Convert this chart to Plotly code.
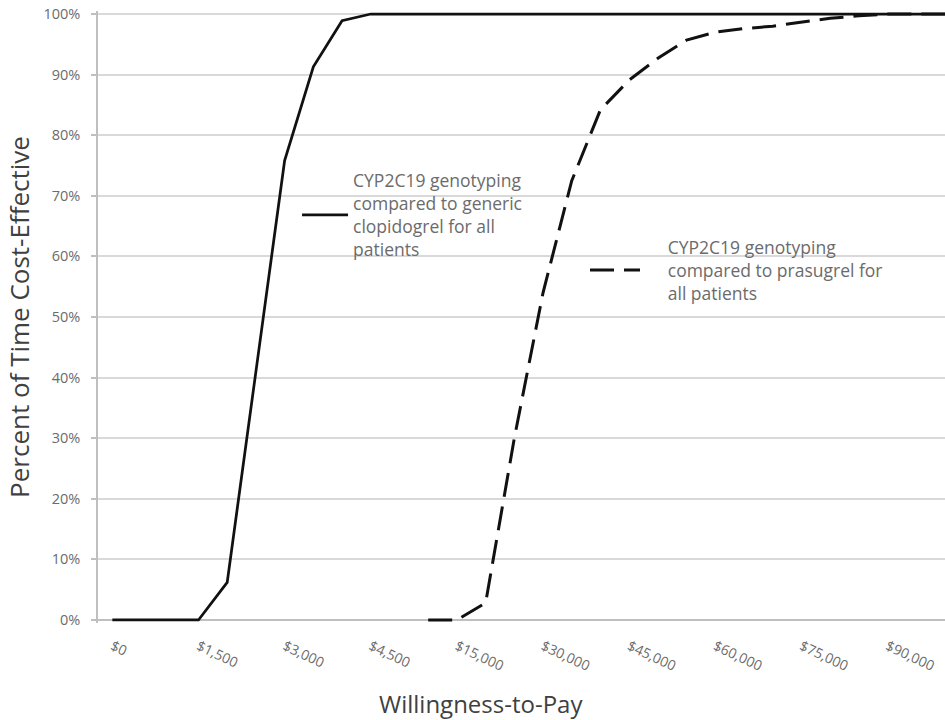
import plotly.graph_objects as go

# Willingness-to-pay categories (USD)
wtp_values = [0, 500, 1000, 1500, 2000, 2500, 3000, 3500, 4000, 4500,
              5000, 10000, 15000, 20000, 25000, 30000, 35000, 40000, 45000,
              50000, 55000, 60000, 65000, 70000, 75000, 80000, 85000, 90000,
              95000, 100000]
categories = ["${:,}".format(v) for v in wtp_values]

# Probability cost-effective
generic_clopidogrel = [0.0, 0.0, 0.0, 0.0, 0.062, 0.41, 0.758, 0.913, 0.989, 1.0,
                       1.0, 1.0, 1.0, 1.0, 1.0, 1.0, 1.0, 1.0, 1.0, 1.0,
                       1.0, 1.0, 1.0, 1.0, 1.0, 1.0, 1.0, 1.0, 1.0, 1.0]
prasugrel = [None, None, None, None, None, None, None, None, None, None,
             None, 0.0, 0.0, 0.028, 0.30, 0.54, 0.725, 0.842, 0.891, 0.927,
             0.957, 0.970, 0.976, 0.980, 0.986, 0.993, 0.997, 1.0, 1.0, 1.0]

tick_labels = ["$0", "$1,500", "$3,000", "$4,500", "$15,000", "$30,000",
               "$45,000", "$60,000", "$75,000", "$90,000"]

name_solid = "CYP2C19 genotyping<br>compared to generic<br>clopidogrel for all<br>patients"
pad = "\u00a0" * 5
name_dash = pad + "CYP2C19 genotyping<br>" + pad + "compared to prasugrel for<br>" + pad + "all patients"

fig = go.Figure()
fig.add_trace(go.Scatter(
    x=categories, y=generic_clopidogrel, mode="lines", name=name_solid,
    line=dict(color="#111111", width=2.75), legend="legend",
))
fig.add_trace(go.Scatter(
    x=categories, y=prasugrel, mode="lines", name=name_dash,
    line=dict(color="#111111", width=3, dash="24px,10px"), legend="legend2",
    connectgaps=False,
))

grid = "#d9d9d9"
axis_c = "#bfbfbf"
txt = "#6b6b6b"

fig.update_layout(
    width=945, height=720,
    margin=dict(l=98, r=0, t=11, b=97),
    paper_bgcolor="white", plot_bgcolor="white",
    font=dict(family="Open Sans", color=txt),
    xaxis=dict(
        type="category", categoryorder="array", categoryarray=categories,
        range=[-0.5, 29.0],
        tickmode="array", tickvals=tick_labels, ticktext=tick_labels,
        tickangle=25, tickfont=dict(size=14, color=txt),
        showgrid=False, zeroline=False, showline=False, ticks="",
        ticklabelstandoff=12,
    ),
    yaxis=dict(
        range=[-0.005, 1.005], tickmode="linear", tick0=0, dtick=0.1,
        tickformat=".0%", tickfont=dict(size=14.5, color=txt),
        showgrid=True, gridcolor=grid, gridwidth=1.5,
        zeroline=True, zerolinecolor=axis_c, zerolinewidth=1.5,
        showline=True, linecolor=axis_c, linewidth=1.5,
        ticks="outside", ticklen=5, tickcolor=axis_c, tickwidth=1.5,
        ticklabelstandoff=8,
        title=dict(text="Percent of Time Cost-Effective", font=dict(size=26, color="#404040"), standoff=6),
    ),
    annotations=[dict(
        text="Willingness-to-Pay", xref="paper", yref="paper",
        x=0.452, y=-0.131, xanchor="center", yanchor="middle", showarrow=False,
        font=dict(size=24, color="#404040", family="Open Sans"),
    )],
    legend=dict(
        x=0.235, y=0.752, xanchor="left", yanchor="top",
        bgcolor="rgba(0,0,0,0)", font=dict(size=17.5, color=txt, family="Open Sans"),
        itemwidth=46, valign="middle",
    ),
    legend2=dict(
        x=0.575, y=0.643, xanchor="left", yanchor="top",
        bgcolor="rgba(0,0,0,0)", font=dict(size=17.5, color=txt, family="Open Sans"),
        itemwidth=50, valign="middle",
    ),
    showlegend=True,
)

fig.write_html("out.html", config={"displayModeBar": False},
               post_script="document.body.style.margin='0';")
